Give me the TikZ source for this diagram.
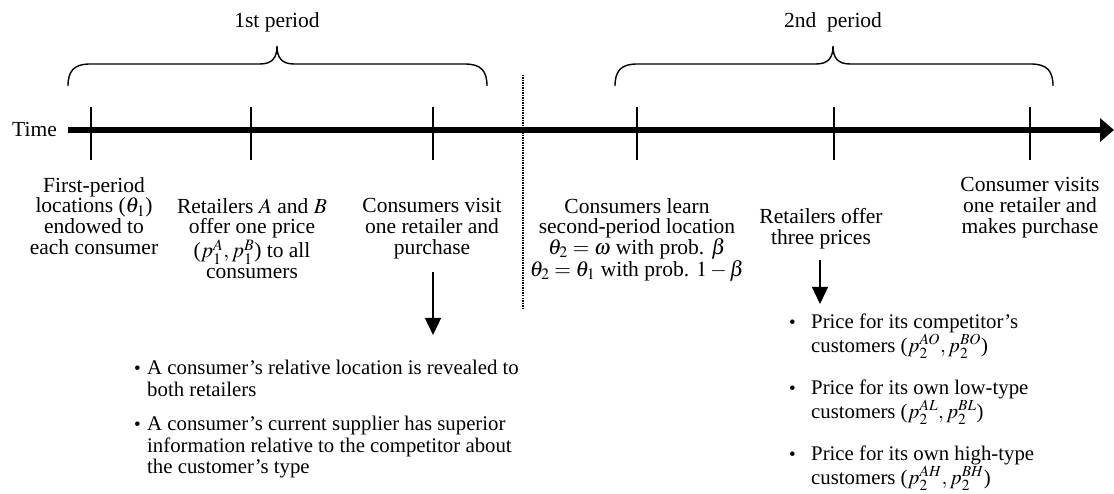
\documentclass[tikz,border=0pt]{standalone}
\usepackage{mathptmx}
\usepackage{fontspec}
\setmainfont{Liberation Serif}
\usetikzlibrary{arrows.meta}
\tikzset{
  lbl/.style={align=center, inner sep=0pt, anchor=north, font=\fontsize{21.5}{20.8}\selectfont},
  itm/.style={align=left, inner sep=0pt, anchor=north west, font=\fontsize{20.8}{21.5}\selectfont},
  tickline/.style={line width=1.3pt},
  bracepath/.style={line width=1.4pt},
  axis/.style={line width=6.5pt, -{Triangle[length=14pt,width=23pt]}},
  downarrow/.style={line width=1.3pt, -{Triangle[length=17pt,width=16pt]}},
}
\newcommand{\bl}[1]{\makebox[#1][l]{\raisebox{0.5pt}{\fontsize{19}{19}\selectfont\textbullet}}}
\begin{document}
\begin{tikzpicture}[x=1pt,y=-1pt]
\useasboundingbox (0,0) rectangle (1114,494);
% axis
\coordinate (axs) at (68,130);
\coordinate (axe) at (1114,130);
\node[inner sep=0pt, anchor=east, font=\fontsize{21.5}{20.8}\selectfont] (time) at (57,129) {Time};
\draw[axis] (axs) -- (axe);
% ticks
\foreach \n/\x in {t1/91,t2/251,t3/433,t4/637,t5/834,t6/1030}{
  \coordinate (\n top) at (\x,107);
  \coordinate (\n bot) at (\x,160);
  \draw[tickline] (\n top) -- (\n bot);
}
% dotted separator
\coordinate (septop) at (523,75);
\coordinate (sepbot) at (523,309);
\draw[line width=2pt, dash pattern=on 1.5pt off 1pt] (septop) -- (sepbot);
% braces
\draw[bracepath] (68,86) .. controls (68,71) and (74,64) .. (90,64) -- (260,64)
  .. controls (272,64) and (277,58) .. (277,46)
  .. controls (277,58) and (282,64) .. (294,64) -- (465,64)
  .. controls (481,64) and (487,71) .. (487,86);
\draw[bracepath] (615,86) .. controls (615,71) and (621,64) .. (637,64) -- (816,64)
  .. controls (828,64) and (833,58) .. (833,46)
  .. controls (833,58) and (838,64) .. (850,64) -- (1031,64)
  .. controls (1047,64) and (1053,71) .. (1053,86);
\node[lbl] (p1) at (277,12) {1st period};
\node[lbl] (p2) at (833,12) {2nd~ period};
% labels
\node[lbl] (l1) at (94,177) {First-period\\locations ($\theta_1$)\\endowed to\\each consumer};
\node[lbl] (l2) at (252,198) {Retailers $A$ and $B$\\offer one price\\($p_1^A, p_1^B$) to all\\consumers};
\node[lbl] (l3) at (432,198) {Consumers visit\\one retailer and\\purchase};
\node[lbl] (l4) at (637,198) {Consumers learn\\second-period location\\$\theta_2=\omega$ with prob. $\beta$\\$\theta_2=\theta_1$ with prob. $1-\beta$};
\node[lbl] (l5) at (821,208) {Retailers offer\\three prices};
\node[lbl] (l6) at (1030,177) {Consumer visits\\one retailer and\\makes purchase};
% arrows
\coordinate (a1s) at (433,272);
\coordinate (a1e) at (433,335);
\draw[downarrow] (a1s) -- (a1e);
\coordinate (a2s) at (820,260);
\coordinate (a2e) at (820,304);
\draw[downarrow] (a2s) -- (a2e);
% left bullets
\node[itm] (i1) at (134,360) {\bl{13pt}A consumer’s relative location is revealed to\\\hspace*{13pt}both retailers};
\node[itm] (i2) at (134,416) {\bl{13pt}A consumer’s current supplier has superior\\\hspace*{13pt}information relative to the competitor about\\\hspace*{13pt}the customer’s type};
% right bullets
\node[itm] (i3) at (789,314) {\bl{22pt}Price for its competitor’s\\\hspace*{22pt}customers ($p_2^{AO}, p_2^{BO}$)};
\node[itm] (i4) at (789,380) {\bl{22pt}Price for its own low-type\\\hspace*{22pt}customers ($p_2^{AL}, p_2^{BL}$)};
\node[itm] (i5) at (789,446) {\bl{22pt}Price for its own high-type\\\hspace*{22pt}customers ($p_2^{AH}, p_2^{BH}$)};
\end{tikzpicture}
\end{document}
